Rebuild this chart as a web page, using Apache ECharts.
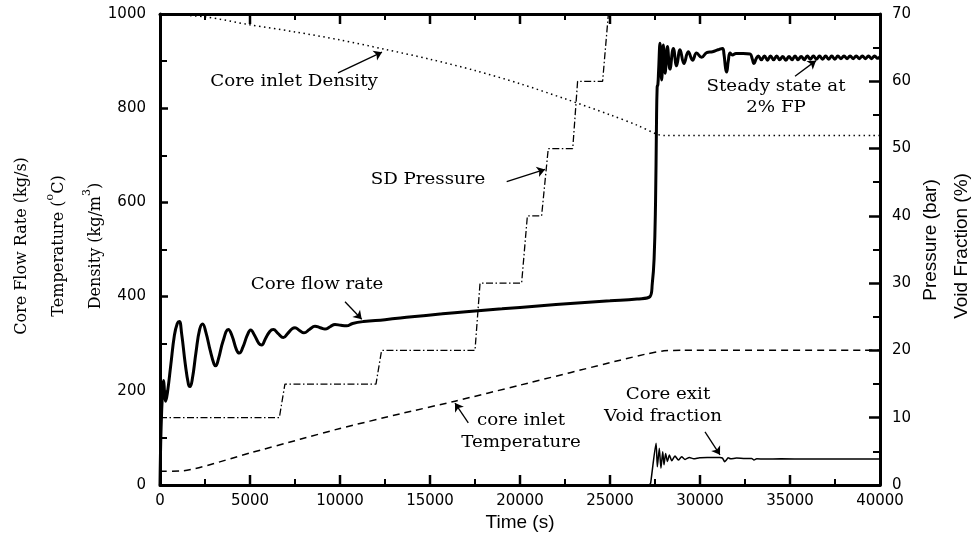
<!DOCTYPE html>
<html>
<head>
<meta charset="utf-8">
<script src="https://cdn.jsdelivr.net/npm/echarts@6/dist/echarts.min.js"></script>
<style>
  html, body { margin: 0; padding: 0; background: #fff; }
  #chart { width: 973px; height: 535px; }
</style>
</head>
<body>
<div id="chart"></div>
<script>
// Time axis (s) and value axes
const timeRange = [0, 40000];
const leftRange = [0, 1000];   // kg/s, degC, kg/m3
const rightRange = [0, 70];    // bar, %
const timeMajorTicks = [5000, 10000, 15000, 20000, 25000, 30000, 35000];
const timeMinorTicks = [2500, 7500, 12500, 17500, 22500, 27500, 32500, 37500];

// Core flow rate (kg/s) vs time (s)
const coreFlowRate = [
  [0, 0], [60, 120], [150, 205], [200, 222], [260, 192], [310, 178], [420, 198],
  [600, 255], [800, 318], [960, 343], [1074, 347], [1200, 322], [1400, 258], [1580, 214],
  [1667, 209], [1800, 226], [2000, 282], [2200, 330], [2370, 342], [2550, 324],
  [2800, 284], [3000, 257], [3093, 253], [3250, 268], [3500, 305], [3796, 330],
  [4000, 317], [4250, 287], [4407, 280], [4600, 292], [4850, 318], [5037, 329],
  [5250, 318], [5500, 300], [5648, 297], [5850, 310], [6100, 326], [6296, 330],
  [6550, 322], [6852, 313], [7100, 322], [7350, 332], [7500, 334], [7750, 328],
  [8000, 323], [8300, 330], [8611, 337], [8900, 334], [9167, 331], [9450, 336],
  [9722, 341], [10050, 339], [10370, 338], [10700, 343], [11300, 347], [12500, 351],
  [14000, 357], [15560, 363], [17000, 368], [19000, 374], [21000, 380], [23000, 386],
  [25000, 391], [26500, 395], [27220, 400], [27350, 428], [27450, 480], [27530, 600],
  [27580, 760], [27620, 845], [27660, 850], [27700, 880], [27780, 938], [27870, 860],
  [27960, 934], [28060, 874], [28190, 931], [28330, 883], [28520, 927], [28700, 890],
  [28890, 924], [29110, 895], [29350, 920], [29590, 902], [29810, 917], [30090, 908],
  [30370, 918], [30700, 920], [31000, 924], [31250, 927], [31330, 915], [31420, 885],
  [31480, 877], [31570, 900], [31670, 917], [31800, 913], [32000, 916], [32400, 916],
  [32780, 915], [32900, 905], [33000, 895], [33120, 905], [33240, 911], [33410, 903],
  [33580, 911], [33750, 902], [33920, 911], [34090, 903], [34260, 911], [34430, 903],
  [34600, 910], [34770, 902], [34940, 910], [35110, 903], [35280, 911], [35450, 903],
  [35620, 910], [35790, 903], [35960, 911], [36130, 904], [36300, 911], [36470, 904],
  [36640, 911], [36810, 904], [36980, 911], [37150, 904], [37320, 911], [37490, 904],
  [37660, 911], [37830, 905], [38000, 911], [38170, 905], [38340, 911], [38510, 905],
  [38680, 911], [38850, 905], [39020, 911], [39190, 905], [39360, 911], [39530, 905],
  [39700, 911], [39870, 906], [40000, 909]
];

// Core inlet density (kg/m3)
const coreInletDensity = [
  [0, 1000], [2500, 994], [5000, 977], [7500, 962], [10000, 945], [12500, 925],
  [15000, 904], [17500, 880], [20000, 852], [22500, 820], [25000, 786], [26500, 764],
  [27600, 745], [28000, 742], [40000, 742]
];

// Core inlet temperature (degC)
const coreInletTemperature = [
  [0, 29], [1300, 30], [5000, 68], [7780, 97], [10000, 120], [13330, 151],
  [16390, 178], [20000, 212], [25560, 265], [27000, 278], [28000, 285],
  [29000, 286], [40000, 286]
];

// Steam drum pressure (bar)
const sdPressure = [
  [0, 10], [6630, 10], [6940, 15], [12000, 15], [12310, 20], [17500, 20],
  [17780, 30], [20090, 30], [20410, 40], [21200, 40], [21570, 50], [22930, 50],
  [23200, 60], [24590, 60], [24910, 70], [40000, 70]
];

// Core exit void fraction (%)
const coreExitVoid = [
  [27200, 0], [27260, 0.3], [27560, 6.2], [27630, 2.7], [27740, 5.45], [27830, 2.5],
  [27930, 4.95], [28000, 3.0], [28090, 4.7], [28190, 3.5], [28300, 4.46], [28430, 3.6],
  [28610, 4.3], [28800, 3.7], [28980, 4.2], [29170, 3.8], [29410, 4.1], [29650, 3.9],
  [29980, 4.05], [30500, 4.08], [31100, 4.1], [31250, 4.0], [31370, 3.46], [31460, 3.7],
  [31560, 4.05], [31700, 3.9], [32030, 4.0], [32500, 3.95], [32870, 3.95], [33000, 3.7],
  [33150, 3.9], [33600, 3.85], [34500, 3.9], [36000, 3.85], [38000, 3.87], [40000, 3.86]
];

// Annotation arrows, [from, to] in (time, left-axis) units
const arrows = [
  [[9889, 875], [12333, 919]],    // Core inlet Density
  [[19261, 644], [21389, 670]],   // SD Pressure
  [[10278, 389], [11206, 352]],   // Core flow rate
  [[35278, 868], [36444, 901]],   // Steady state at 2% FP
  [[30278, 113], [31111, 64]],    // Core exit Void fraction
  [[17128, 132], [16389, 174]]    // core inlet Temperature
];

const chart = echarts.init(document.getElementById('chart'));

const black = '#000';
const plain = v => String(v);
const tickFont = { color: black, fontFamily: 'DejaVu Sans', fontSize: 15, formatter: plain };
const serif = '"DejaVu Serif", serif';
const noteFont = '16px ' + serif;
const sansTitle = '19px "Liberation Sans", Arial, sans-serif';

function frameX(pos, labels) {
  return {
    type: 'value', position: pos, min: timeRange[0], max: timeRange[1], interval: 5000,
    axisLine: { show: true, onZero: false, lineStyle: { color: black, width: 3 } },
    axisTick: { show: true, inside: true, length: 10, lineStyle: { color: black, width: 2 } },
    splitLine: { show: false },
    axisLabel: labels ? Object.assign({ show: true, margin: 9 }, tickFont) : { show: false }
  };
}

// Letter-spaced serif notes inside the plot
function note(text, x, y) {
  return {
    type: 'text', x: x, y: y, z: 100, scaleX: 1.14,
    style: { text: text, font: noteFont, fill: black, align: 'center', verticalAlign: 'middle' }
  };
}

function vTitle(text, x, y, font, rich) {
  return {
    type: 'text', x: x, y: y, rotation: Math.PI / 2, z: 100,
    style: { text: text, font: font, fill: black, align: 'center', verticalAlign: 'middle', rich: rich }
  };
}

const titleFont = '16px ' + serif;
const supRich = {
  a: { font: titleFont, fill: black, lineHeight: 22, verticalAlign: 'bottom' },
  s: { font: '11px ' + serif, fill: black, lineHeight: 22, verticalAlign: 'top' }
};

const labels = [
  note('Core inlet Density', 294, 82),
  note('SD Pressure', 428, 180),
  note('Core flow rate', 317, 285),
  note('Steady state at', 776, 87),
  note('2% FP', 776, 108),
  note('Core exit', 668, 395),
  note('Void fraction', 663, 417),
  note('core inlet', 521, 421),
  note('Temperature', 521, 443),
  vTitle('Core Flow Rate (kg/s)', 22, 246, titleFont),
  vTitle('{a|Temperature (}{s|o}{a|C)}', 56, 246, titleFont, supRich),
  vTitle('{a|Density (kg/m}{s|3}{a|)}', 93, 246, titleFont, supRich),
  vTitle('Pressure (bar)', 931, 240, sansTitle),
  vTitle('Void Fraction (%)', 962, 246, sansTitle),
  {
    type: 'text', x: 520, y: 523, z: 100,
    style: { text: 'Time (s)', font: sansTitle, fill: black, align: 'center', verticalAlign: 'middle' }
  }
];

const option = {
  animation: false,
  grid: { left: 160, right: 93, top: 14, bottom: 50, containLabel: false },
  xAxis: [frameX('bottom', true), frameX('top', false)],
  yAxis: [
    {
      type: 'value', position: 'left', min: leftRange[0], max: leftRange[1], interval: 200,
      axisLine: { show: true, onZero: false, lineStyle: { color: black, width: 3 } },
      axisTick: { show: true, inside: true, length: 8, lineStyle: { color: black, width: 2.5 } },
      minorTick: { show: true, splitNumber: 2, length: 7, lineStyle: { color: black, width: 2 } },
      splitLine: { show: false },
      axisLabel: Object.assign({ margin: 14 }, tickFont)
    },
    {
      type: 'value', position: 'right', min: rightRange[0], max: rightRange[1], interval: 10,
      axisLine: { show: true, onZero: false, lineStyle: { color: black, width: 3 } },
      axisTick: { show: true, inside: true, length: 11, lineStyle: { color: black, width: 2.5 } },
      minorTick: { show: true, splitNumber: 2, length: 7, lineStyle: { color: black, width: 2 } },
      splitLine: { show: false },
      axisLabel: Object.assign({ margin: 12 }, tickFont)
    }
  ],
  series: [
    {
      name: 'Core inlet Density', type: 'line', xAxisIndex: 0, yAxisIndex: 0, data: coreInletDensity,
      showSymbol: false, smooth: 0.3,
      lineStyle: { color: black, width: 1.5, type: [1.5, 3.5] }, z: 3
    },
    {
      name: 'core inlet Temperature', type: 'line', xAxisIndex: 0, yAxisIndex: 0, data: coreInletTemperature,
      showSymbol: false, smooth: 0.2,
      lineStyle: { color: black, width: 1.5, type: [7, 5] }, z: 3
    },
    {
      name: 'SD Pressure', type: 'line', xAxisIndex: 0, yAxisIndex: 1, data: sdPressure,
      showSymbol: false,
      lineStyle: { color: black, width: 1.3, type: [7, 2.5, 1.5, 2.5] }, z: 3
    },
    {
      name: 'Core exit Void fraction', type: 'line', xAxisIndex: 0, yAxisIndex: 1, data: coreExitVoid,
      showSymbol: false, smooth: 0.2,
      lineStyle: { color: black, width: 1.5 }, z: 4
    },
    {
      name: 'Core flow rate', type: 'line', xAxisIndex: 0, yAxisIndex: 0, data: coreFlowRate,
      showSymbol: false, smooth: 0.45,
      lineStyle: { color: black, width: 3 }, z: 5,
      markLine: {
        silent: true, animation: false,
        symbol: ['none', 'arrow'], symbolSize: 8,
        lineStyle: { color: black, width: 1.3, type: 'solid' },
        label: { show: false },
        data: arrows.map(a => [{ coord: a[0] }, { coord: a[1] }])
      }
    }
  ],
  graphic: { elements: labels }
};

chart.setOption(option);

// Inward time ticks on the top and bottom frame edges, placed through the axis scale
const frameTicks = [];
function addTicks(values, edgeValue, dir, len, width) {
  values.forEach(t => {
    const p = chart.convertToPixel({ xAxisIndex: 0, yAxisIndex: 0 }, [t, edgeValue]);
    frameTicks.push({
      type: 'line', z: 200, silent: true,
      shape: { x1: p[0], y1: p[1], x2: p[0], y2: p[1] + dir * len },
      style: { stroke: black, lineWidth: width }
    });
  });
}
addTicks(timeMajorTicks, leftRange[0], -1, 10, 2.5);
addTicks(timeMinorTicks, leftRange[0], -1, 6, 2);
addTicks(timeMajorTicks, leftRange[1], 1, 10, 2.5);
addTicks(timeMinorTicks, leftRange[1], 1, 6, 2);

chart.setOption({ graphic: { elements: labels.concat(frameTicks) } });
</script>
</body>
</html>
